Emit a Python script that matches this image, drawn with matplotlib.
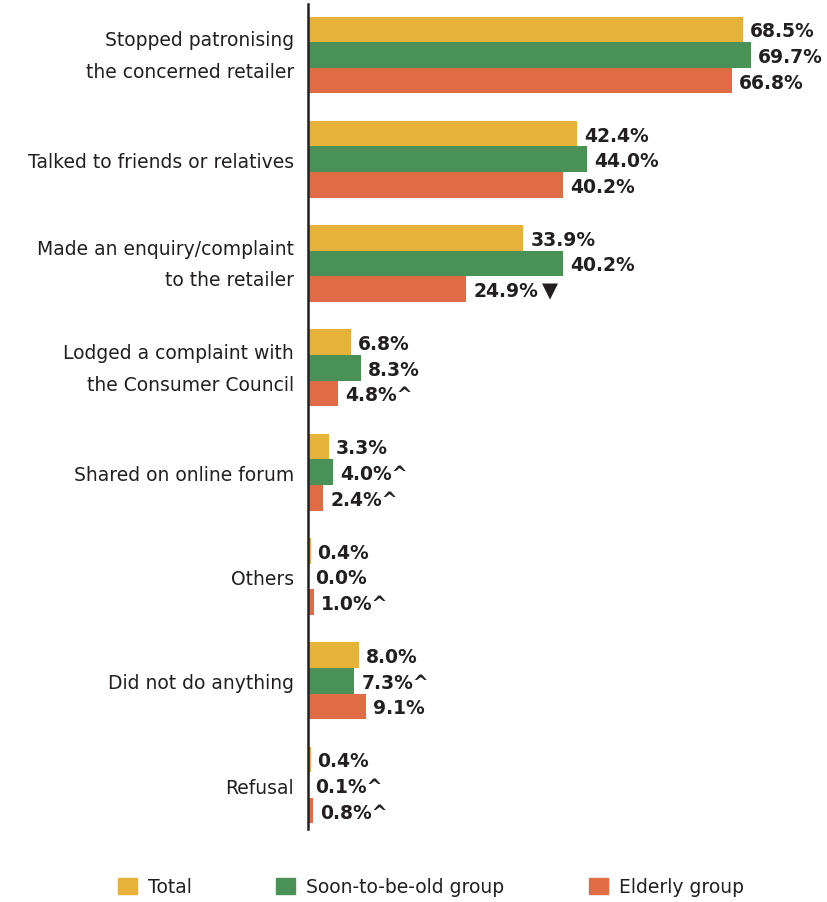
import matplotlib.pyplot as plt
import matplotlib.transforms as mtransforms
from matplotlib.patches import Patch

categories = ["Stopped patronising\nthe concerned retailer",
              "Talked to friends or relatives",
              "Made an enquiry/complaint\nto the retailer",
              "Lodged a complaint with\nthe Consumer Council",
              "Shared on online forum",
              "Others",
              "Did not do anything",
              "Refusal"]
total = [68.5, 42.4, 33.9, 6.8, 3.3, 0.4, 8.0, 0.4]
soon = [69.7, 44.0, 40.2, 8.3, 4.0, 0.0, 7.3, 0.1]
elderly = [66.8, 40.2, 24.9, 4.8, 2.4, 1.0, 9.1, 0.8]
soon_marks = ["", "", "", "", "^", "", "^", "^"]
elderly_marks = ["", "", "", "^", "^", "^", "", "^"]
elderly_down = [False, False, True, False, False, False, False, False]
series_names = ["Total", "Soon-to-be-old group", "Elderly group"]

colors = ["#E6B23A", "#4A9158", "#DF6C45"]
txt = "#231F20"

fig = plt.figure(figsize=(8.27, 9.03), dpi=100)
ax = fig.add_axes([308 / 827, 1 - 830 / 903, 1 - 308 / 827, 825 / 903])

h = 0.246
ys = list(range(len(categories)))
series = [(total, [""] * 8), (soon, soon_marks), (elderly, elderly_marks)]
for k, (vals, marks) in enumerate(series):
    pos = [y + (k - 1) * h for y in ys]
    ax.barh(pos, vals, height=h, color=colors[k], linewidth=0)
    for i, (p, v, m) in enumerate(zip(pos, vals, marks)):
        t = ax.annotate(f"{v:.1f}%{m}", xy=(v, p), xytext=(5, -1),
                        textcoords="offset points", va="center", ha="left",
                        fontsize=13.5, fontweight="bold", color=txt)
        if k == 2 and elderly_down[i]:
            ax.annotate("\u25BC", xy=(1, 0.5), xycoords=t, xytext=(3, 0),
                        textcoords="offset points", va="center", ha="left",
                        fontsize=15, color=txt)

ax.set_xlim(0, 519 / 6.35)
ax.set_ylim(7 + 44 / 104.3, -51 / 104.3)
ax.set_yticks(ys)
ax.set_yticklabels(categories, fontsize=13.5, color=txt, linespacing=1.85)
ax.tick_params(axis="y", length=0, pad=10)
shift = mtransforms.ScaledTranslation(0, 8 / 100, fig.dpi_scale_trans)
for lab in ax.get_yticklabels():
    if "\n" in lab.get_text():
        lab.set_transform(lab.get_transform() + shift)
ax.set_xticks([])
for s in ["top", "right", "bottom"]:
    ax.spines[s].set_visible(False)
ax.spines["left"].set_linewidth(1.8)
ax.spines["left"].set_color(txt)

handles = [Patch(color=c, label=n) for c, n in zip(colors, series_names)]
fig.legend(handles=handles, loc="center", bbox_to_anchor=(431 / 827, 1 - 888 / 903),
           ncol=3, frameon=False, fontsize=13.5, handlelength=1.0, handleheight=1.0,
           columnspacing=4.5, handletextpad=0.6, labelcolor=txt)

fig.savefig("out.png", dpi=100)
